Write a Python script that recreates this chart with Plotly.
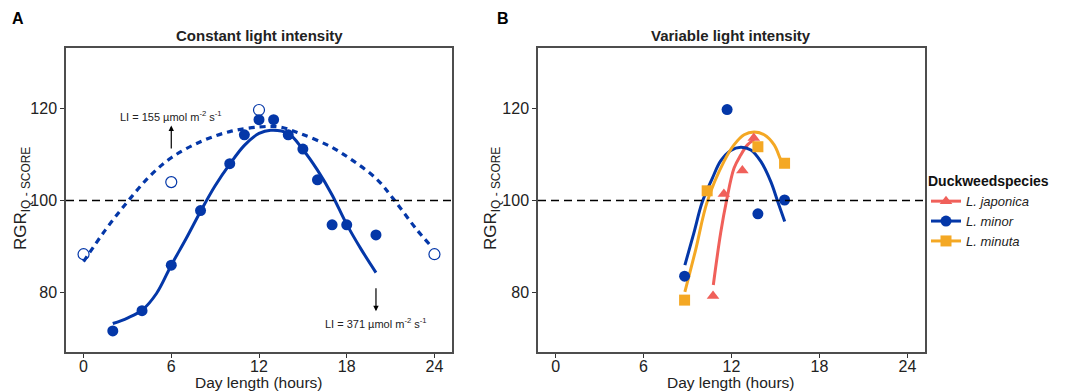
import plotly.graph_objects as go

# ---------------- Panel A: constant light intensity ----------------
a_li371_x = [2, 4, 6, 8, 10, 11, 12, 13, 14, 15, 16, 17, 18, 20]
a_li371_y = [71.6, 76.0, 85.9, 97.8, 108.0, 114.3, 117.6, 117.6, 114.3, 111.2, 104.5, 94.7, 94.7, 92.5]
a_li155_x = [0, 6, 12, 24]
a_li155_y = [88.3, 104.0, 119.7, 88.3]

# fitted curves
a_fit371_x = [2, 3, 4, 5, 6, 7, 8, 9, 10, 11, 12, 12.8, 14, 15, 16, 17, 18, 19, 20]
a_fit371_y = [73.2, 74.4, 76.1, 79.8, 85.9, 91.6, 97.6, 103.2, 107.9, 112.0, 114.6, 115.3, 114.6, 111.1, 106.6, 101.2, 94.8, 89.3, 84.3]
a_fit155_x = [0, 1.5, 3, 4.5, 6, 8, 10, 12, 13.4, 14.8, 16.9, 18.5, 20.1, 21.2, 22.8, 23.7]
a_fit155_y = [86.7, 93.6, 99.7, 105.2, 109.3, 112.8, 115.0, 116.0, 116.0, 114.6, 111.7, 108.5, 104.5, 100.3, 93.6, 90.3]

# ---------------- Panel B: variable light intensity ----------------
species = ["L. japonica", "L. minor", "L. minuta"]
b_japonica_x = [10.74, 11.48, 12.74, 13.52]
b_japonica_y = [79.2, 101.4, 106.5, 113.6]
b_minor_x = [8.8, 11.7, 13.8, 15.62]
b_minor_y = [83.5, 119.8, 97.1, 100.1]
b_minuta_x = [8.8, 10.34, 13.8, 15.62]
b_minuta_y = [78.3, 102.1, 111.7, 108.1]

b_fit_japonica_x = [10.76, 11.26, 11.67, 12.17, 12.63, 13.09, 13.54]
b_fit_japonica_y = [81.6, 92.9, 100.1, 107.0, 109.9, 112.1, 113.2]
b_fit_minor_x = [8.82, 9.43, 10.0, 10.69, 11.26, 11.95, 12.63, 13.32, 14.0, 14.68, 15.14, 15.63]
b_fit_minor_y = [85.9, 92.9, 99.6, 104.8, 108.6, 110.9, 111.6, 111.0, 108.5, 104.1, 99.9, 95.4]
b_fit_minuta_x = [8.82, 9.55, 10.35, 11.49, 12.17, 12.86, 13.54, 14.23, 14.91, 15.37, 15.63]
b_fit_minuta_y = [80.1, 89.2, 99.8, 108.5, 112.1, 114.3, 114.9, 114.3, 112.1, 108.8, 107.4]

x_ticks = [0, 6, 12, 18, 24]
y_ticks = [80, 100, 120]
ref_line = 100

BLUE = "#0437A8"
RED = "#F0605A"
ORANGE = "#F4A824"
FONT = "Liberation Sans, Arial, sans-serif"

W, H = 1072, 392


def px_x(p):
    return p / W


def px_y(p):
    return (H - p) / H


fig = go.Figure()

# Panel A traces
fig.add_trace(go.Scatter(x=a_fit155_x, y=a_fit155_y, mode="lines", line=dict(color=BLUE, width=3.2, dash="6px,5px", shape="spline"),
                         xaxis="x", yaxis="y", showlegend=False, hoverinfo="skip"))
fig.add_trace(go.Scatter(x=a_fit371_x, y=a_fit371_y, mode="lines", line=dict(color=BLUE, width=3, shape="spline"),
                         xaxis="x", yaxis="y", showlegend=False, hoverinfo="skip"))
fig.add_trace(go.Scatter(x=a_li155_x, y=a_li155_y, mode="markers",
                         marker=dict(symbol="circle-open", size=11, color=BLUE, line=dict(width=1.2)),
                         xaxis="x", yaxis="y", showlegend=False))
fig.add_trace(go.Scatter(x=a_li371_x, y=a_li371_y, mode="markers",
                         marker=dict(symbol="circle", size=11, color=BLUE),
                         xaxis="x", yaxis="y", showlegend=False))

# Panel B traces
b_sets = [
    (species[0], b_japonica_x, b_japonica_y, b_fit_japonica_x, b_fit_japonica_y, RED, "triangle-up"),
    (species[1], b_minor_x, b_minor_y, b_fit_minor_x, b_fit_minor_y, BLUE, "circle"),
    (species[2], b_minuta_x, b_minuta_y, b_fit_minuta_x, b_fit_minuta_y, ORANGE, "square"),
]
for name, xs, ys, fx, fy, col, sym in b_sets:
    fig.add_trace(go.Scatter(x=fx, y=fy, mode="lines", line=dict(color=col, width=3, shape="spline"),
                             xaxis="x2", yaxis="y2", showlegend=False, legendgroup=name, hoverinfo="skip"))
for name, xs, ys, fx, fy, col, sym in b_sets:
    fig.add_trace(go.Scatter(x=xs, y=ys, mode="markers", marker=dict(symbol=sym, size=11, color=col),
                             xaxis="x2", yaxis="y2", showlegend=False, legendgroup=name))
# legend keys (line + symbol, as in the reference key)
for name, xs, ys, fx, fy, col, sym in b_sets:
    fig.add_trace(go.Scatter(x=[None], y=[None], mode="lines+markers", name="<i>" + name + "</i>",
                             marker=dict(symbol=sym, size=11, color=col), line=dict(color=col, width=3),
                             xaxis="x2", yaxis="y2", legendgroup=name))

axis_common = dict(range=[-1.2, 25.2], tickvals=x_ticks, ticks="outside", ticklen=4, tickwidth=1,
                   tickcolor="#333333", showline=True, linecolor="#4d4d4d", linewidth=1.5, mirror=True,
                   showgrid=False, zeroline=False, ticklabelstandoff=-5,
                   tickfont=dict(family=FONT, size=16, color="#222222"))
yaxis_common = dict(range=[67.0, 133.2], tickvals=y_ticks, ticks="outside", ticklen=4, tickwidth=1,
                    tickcolor="#333333", showline=True, linecolor="#4d4d4d", linewidth=1.5, mirror=True,
                    showgrid=False, zeroline=False, tickfont=dict(family=FONT, size=16, color="#222222"))

y_dom = [px_y(352), px_y(48)]
fig.update_layout(
    width=W, height=H,
    margin=dict(l=0, r=0, t=0, b=0),
    paper_bgcolor="white", plot_bgcolor="white",
    font=dict(family=FONT, color="#222222"),
    xaxis=dict(domain=[px_x(66), px_x(452)], anchor="y", **axis_common),
    yaxis=dict(domain=y_dom, anchor="x", **yaxis_common),
    xaxis2=dict(domain=[px_x(538), px_x(925)], anchor="y2", **axis_common),
    yaxis2=dict(domain=y_dom, anchor="x2", **yaxis_common),
    legend=dict(x=px_x(926), y=px_y(168), xanchor="left", yanchor="top",
                title=dict(text="<b>Duckweedspecies</b>", font=dict(family=FONT, size=14, color="#111111")),
                font=dict(family=FONT, size=13, color="#222222"), tracegroupgap=0,
                itemwidth=30, bgcolor="rgba(0,0,0,0)"),
)

# dashed reference lines at 100
for xr, yr in (("x", "y"), ("x2", "y2")):
    fig.add_shape(type="line", xref=xr + " domain", yref=yr, x0=0, x1=1, y0=ref_line, y1=ref_line,
                  line=dict(color="black", width=1.6, dash="8px,5px"))


def paper_text(text, cx, cy, size, angle=0, color="#222222"):
    return dict(text=text, x=px_x(cx), y=px_y(cy), xref="paper", yref="paper", xanchor="center",
                yanchor="middle", showarrow=False, textangle=angle,
                font=dict(size=size, family=FONT, color=color))


ann = []
ann.append(paper_text("<b>A</b>", 18, 18, 16, color="black"))
ann.append(paper_text("<b>B</b>", 503, 18, 16, color="black"))
ann.append(paper_text("<b>Constant light intensity</b>", 259, 35, 15))
ann.append(paper_text("<b>Variable light intensity</b>", 731, 35, 15))
for cx in (259, 731):
    ann.append(paper_text("Day length (hours)", cx, 382, 15.5))
for cx in (22, 492):
    ann.append(paper_text("RGR<sub>IQ - SCORE</sub>", cx, 199, 17, angle=-90))
# light intensity labels + arrows
ann.append(dict(text="LI = 155 µmol m<sup>-2</sup> s<sup>-1</sup>", x=6, y=118.3, xref="x", yref="y",
                xanchor="center", yanchor="middle",
                showarrow=False, font=dict(size=11, family=FONT, color="#222222")))
ann.append(dict(x=6, y=116.3, ax=6, ay=111.0, xref="x", yref="y", axref="x", ayref="y", text="",
                showarrow=True, arrowhead=2, arrowsize=0.9, arrowwidth=1.2, arrowcolor="black"))
ann.append(dict(text="LI = 371 µmol m<sup>-2</sup> s<sup>-1</sup>", x=20, y=73.4, xref="x", yref="y",
                xanchor="center", yanchor="middle",
                showarrow=False, font=dict(size=11, family=FONT, color="#222222")))
ann.append(dict(x=20, y=75.9, ax=20, ay=81.2, xref="x", yref="y", axref="x", ayref="y", text="",
                showarrow=True, arrowhead=2, arrowsize=0.9, arrowwidth=1.2, arrowcolor="black"))
fig.update_layout(annotations=ann)

fig.write_html("out.html", config={"displayModeBar": False},
               post_script="document.body.style.margin='0';document.body.style.overflow='hidden';")
